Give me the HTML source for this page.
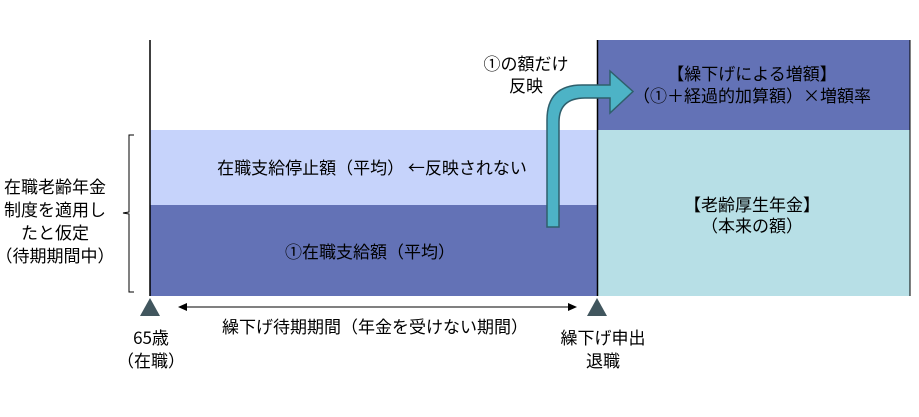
<!DOCTYPE html>
<html><head><meta charset="utf-8"><style>
body{margin:0;width:919px;height:412px;background:#fff;overflow:hidden;}
svg text{font-family:"Noto Sans CJK JP","Liberation Sans",sans-serif;font-size:17px;fill:#000;}
</style></head><body>
<svg width="919" height="412" viewBox="0 0 919 412">
<rect x="150" y="130" width="448" height="75" fill="#c6d3fb"/>
<rect x="150" y="205" width="448" height="91" fill="#6372b6"/>
<rect x="598" y="40" width="312" height="90" fill="#6372b6"/>
<rect x="598" y="130" width="312" height="166" fill="#b7dfe6"/>
<line x1="150" y1="40" x2="150" y2="296" stroke="#000" stroke-width="1.5"/>
<line x1="597.5" y1="40" x2="597.5" y2="296" stroke="#000" stroke-width="1.5"/>
<line x1="910" y1="40" x2="910" y2="296" stroke="#000" stroke-width="1"/>
<path d="M547 227 L547 120 Q547 85 582 85 L610 85 L610 71 L633 91.5 L610 113 L610 98 L585 98 Q559 98 559 122 L559 227 Z" fill="#4db3c6" stroke="#2f5f6c" stroke-width="1.5"/>
<path d="M134 135 L129 135 L129 212 L123 213 L129 214 L129 292 L134 292" fill="none" stroke="#000" stroke-width="1"/>
<polygon points="150,298 140,316 160,316" fill="#41565e"/>
<polygon points="597,298 587,316 607,316" fill="#41565e"/>
<line x1="184" y1="307" x2="570" y2="307" stroke="#000" stroke-width="1"/>
<polygon points="178,307 187,303 187,311" fill="#000"/>
<polygon points="577,307 568,303 568,311" fill="#000"/>
<g text-anchor="middle">
<text x="372" y="174">在職支給停止額（平均） ←反映されない</text>
<text x="370" y="258">①在職支給額（平均）</text>
<text x="752" y="80">【繰下げによる増額】</text>
<text x="752" y="102">（①＋経過的加算額）×増額率</text>
<text x="752" y="211">【老齢厚生年金】</text>
<text x="752" y="232">（本来の額）</text>
<text x="526" y="70">①の額だけ</text>
<text x="526" y="92">反映</text>
<text x="55" y="193">在職老齢年金</text>
<text x="55" y="216">制度を適用し</text>
<text x="55" y="239">たと仮定</text>
<text x="55" y="262">（待期期間中）</text>
<text x="151" y="344">65歳</text>
<text x="151" y="367">（在職）</text>
<text x="375" y="333">繰下げ待期期間（年金を受けない期間）</text>
<text x="603" y="344">繰下げ申出</text>
<text x="603" y="367">退職</text>
</g>
</svg>
</body></html>
